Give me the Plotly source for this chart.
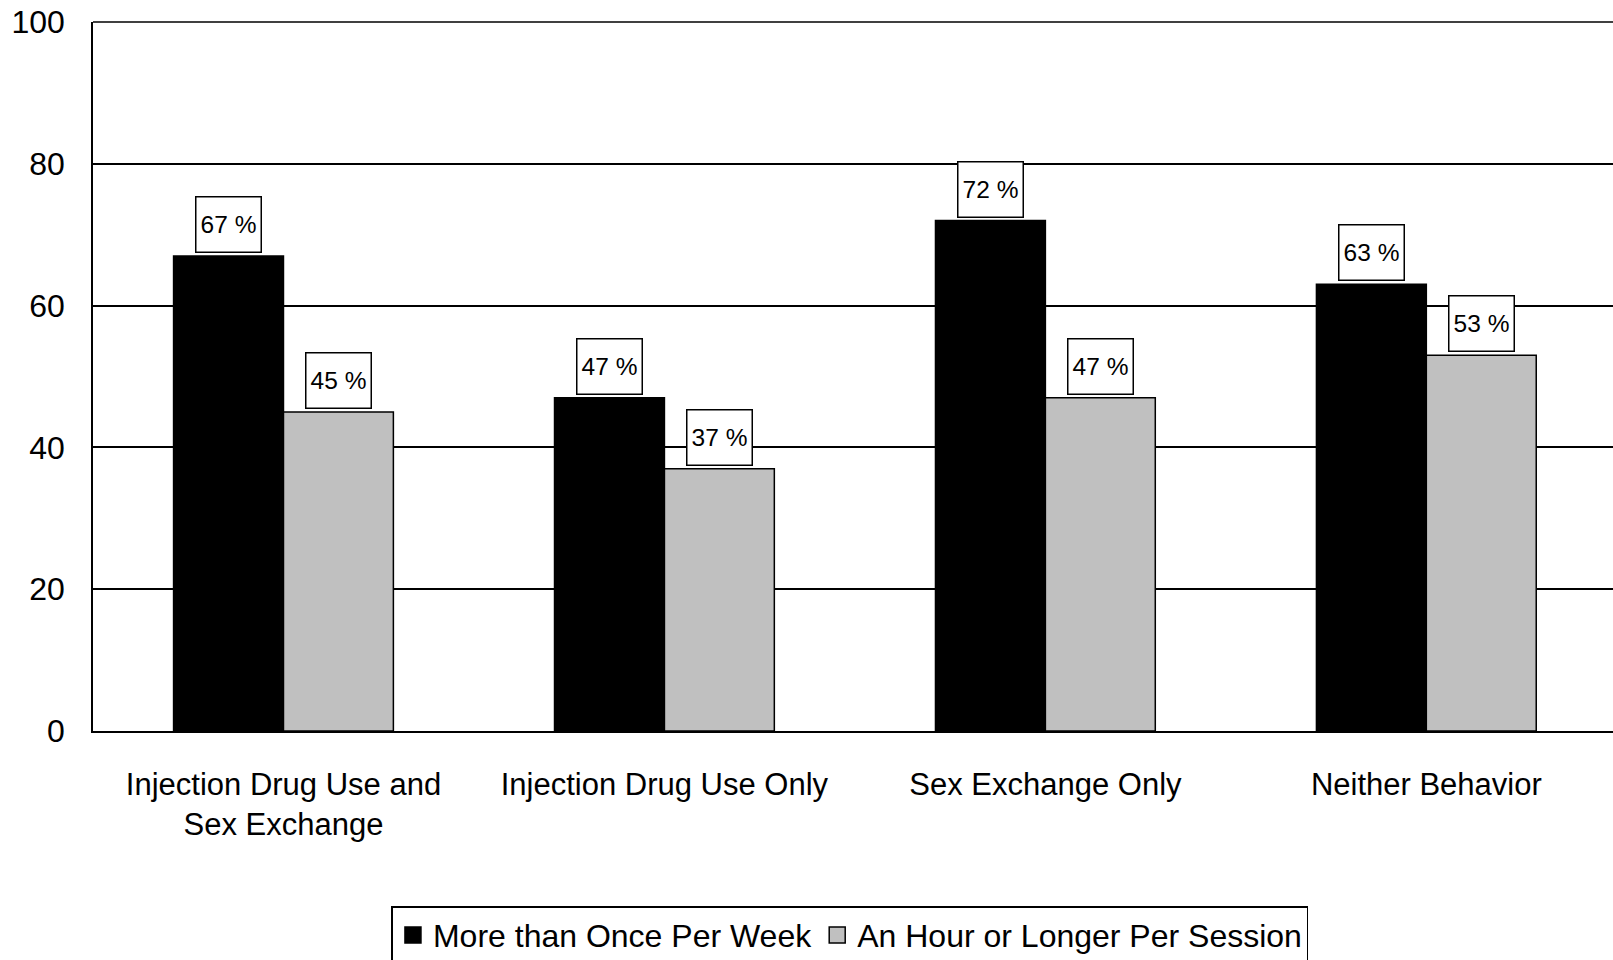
import plotly.graph_objects as go

categories = ["Injection Drug Use and<br>Sex Exchange", "Injection Drug Use Only",
              "Sex Exchange Only", "Neither Behavior"]
series_names = ["More than Once Per Week", "An Hour or Longer Per Session"]
more_than_once = [67, 47, 72, 63]
hour_or_longer = [45, 37, 47, 53]
y_ticks = [0, 20, 40, 60, 80, 100]

FONT = "Liberation Sans, Arial, Helvetica, sans-serif"
colors = ["#000000", "#C0C0C0"]
bargap = 0.423
bar_w = (1 - bargap) / 2

xs = list(range(len(categories)))
fig = go.Figure()
for name, vals, col in zip(series_names, [more_than_once, hour_or_longer], colors):
    fig.add_trace(go.Bar(x=xs, y=vals, name=name, showlegend=False,
                         marker=dict(color=col, line=dict(color="black", width=1.5))))
# legend entries with larger square swatches
for name, col in zip(series_names, colors):
    fig.add_trace(go.Scatter(x=[None], y=[None], name=name, mode="markers",
                             marker=dict(symbol="square", size=16, color=col,
                                         line=dict(color="black", width=1.5))))

annotations = []
for j, vals in enumerate([more_than_once, hour_or_longer]):
    for i, v in enumerate(vals):
        annotations.append(dict(
            x=i + (j - 0.5) * bar_w, y=v, xref="x", yref="y",
            text=f"{v} %", showarrow=False, yanchor="bottom", yshift=3,
            width=62, height=52, bordercolor="black", borderwidth=1.5,
            bgcolor="white", font=dict(size=24.5, color="black", family=FONT)))

fig.update_layout(
    width=1613, height=960,
    margin=dict(l=93, r=0, t=22, b=229, autoexpand=False),
    plot_bgcolor="white", paper_bgcolor="white",
    barmode="group", bargap=bargap, bargroupgap=0,
    font=dict(family=FONT, size=31, color="black"),
    annotations=annotations,
    showlegend=True,
    legend=dict(orientation="h", x=0.498, xanchor="center", y=-0.247, yanchor="top",
                bordercolor="black", borderwidth=1.5, bgcolor="white", itemsizing="trace",
                font=dict(size=32, family=FONT, color="black"), traceorder="normal"),
    shapes=[dict(type="line", xref="paper", yref="paper", x0=0, x1=1, y0=1, y1=1,
                 line=dict(color="black", width=1.5))],
)
fig.update_xaxes(
    tickvals=xs, ticktext=categories, range=[-0.5, 3.49],
    showline=True, linecolor="black", linewidth=1.5, ticks="",
    showgrid=False, zeroline=False, ticklabelstandoff=25,
    tickfont=dict(size=31))
fig.update_yaxes(
    range=[0, 100], tickvals=y_ticks, showline=True, linecolor="black", linewidth=1.5,
    showgrid=True, gridcolor="black", gridwidth=1.5, zeroline=False, ticks="",
    ticklabelstandoff=20, tickfont=dict(size=32))

fig.write_html("out.html", config={"displayModeBar": False},
               post_script="document.body.style.margin='0';document.body.style.overflow='hidden';")
